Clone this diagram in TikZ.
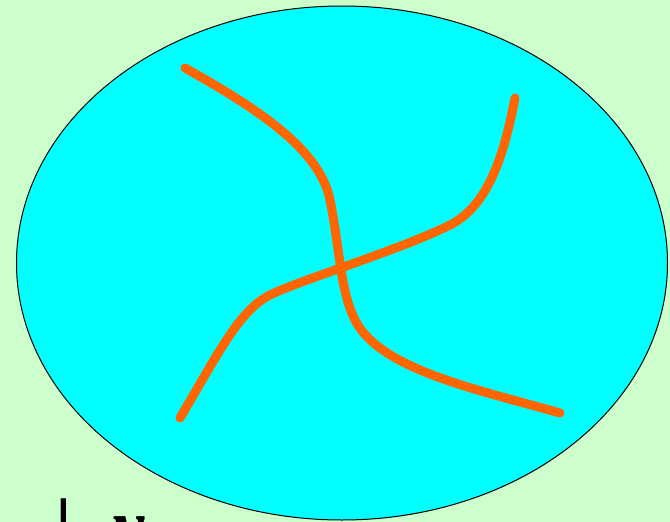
\documentclass[tikz,border=0pt]{standalone}
\usepackage{fontspec}
\setmainfont{Liberation Serif}
\usepackage{xcolor}
\definecolor{bgmint}{RGB}{204,255,204}
\definecolor{discaqua}{RGB}{0,255,255}
\definecolor{strandorange}{RGB}{255,102,0}
\tikzset{
  disc/.style={draw=black, line width=1pt, fill=discaqua},
  strand/.style={draw=strandorange, line width=9pt, line cap=round},
  cuttext/.style={inner sep=0pt, anchor=north west, font=\fontsize{76}{84}\selectfont\bfseries}
}
\begin{document}
\begin{tikzpicture}[x=1pt, y=-1pt]
  % page and background
  \useasboundingbox (0,0) rectangle (670,522);
  \clip (0,0) rectangle (670,522);
  \fill[bgmint] (0,0) rectangle (670,522);
  % the disc
  \coordinate (c) at (342,263);
  \draw[disc] (c) ellipse [x radius=325.5pt, y radius=257pt];
  % the two strands
  \coordinate (a1) at (185,68);
  \coordinate (a2) at (560,413);
  \coordinate (b1) at (180,418);
  \coordinate (b2) at (515,98);
  \draw[strand] (a1) .. controls (260,110) and (320,150) .. (330,200)
    .. controls (340,250) and (340,290) .. (355,320)
    .. controls (380,370) and (480,390) .. (a2);
  \draw[strand] (b1) .. controls (220,350) and (240,310) .. (270,295)
    .. controls (300,280) and (400,250) .. (450,225)
    .. controls (490,205) and (505,150) .. (b2);
  % text cut off at the bottom
  \node[cuttext] (ket) at (55,499) {|\hspace{0.55em}\textit{γ}};
\end{tikzpicture}
\end{document}
